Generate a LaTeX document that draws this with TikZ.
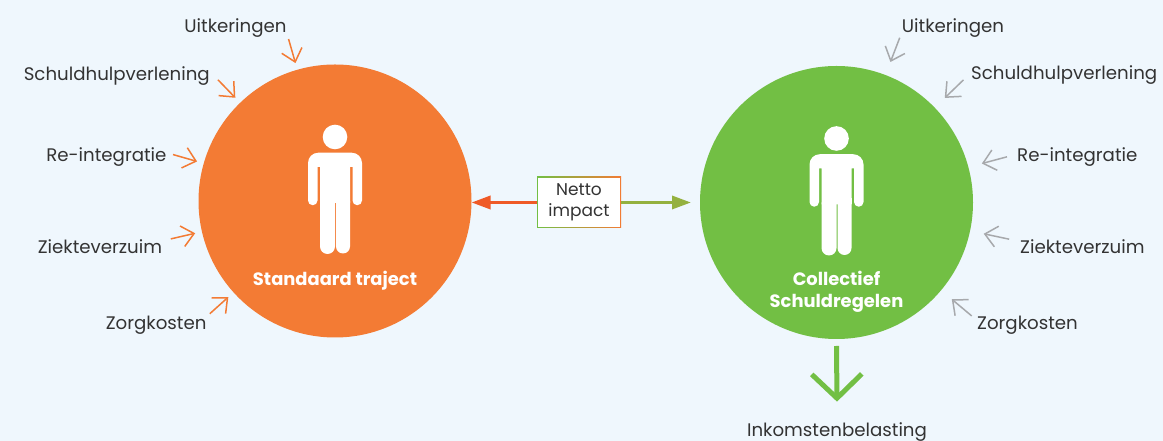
\documentclass[tikz,border=0pt]{standalone}
\usepackage{fontspec}
\setmainfont{Poppins}
\usetikzlibrary{arrows.meta}
\definecolor{achtergrond}{HTML}{EFF7FD}
\definecolor{oranje}{HTML}{F37B34}
\definecolor{roodoranje}{HTML}{EF5A27}
\definecolor{groen}{HTML}{72BF44}
\definecolor{olijf}{HTML}{94B13F}
\definecolor{grijs}{HTML}{A7A9AC}
\definecolor{tekst}{HTML}{333333}

\tikzset{
 persoon/.pic={
  \fill[white] (0,64) circle (12.3);
  \fill[white] (-27,0.5) -- (-27,38) arc[start angle=180,end angle=90,radius=10.3]
   -- (16.7,48.3) arc[start angle=90,end angle=0,radius=10.3] -- (27,0.5)
   arc[start angle=0,end angle=-180,radius=4.75] -- (17.5,34) -- (15,34) -- (15,-2)
   -- (-15,-2) -- (-15,34) -- (-17.5,34) -- (-17.5,0.5)
   arc[start angle=0,end angle=-180,radius=4.75] -- cycle;
  \fill[white] (-15,0) -- (-15,-45.5) arc[start angle=180,end angle=360,radius=7.5] -- (0,0) -- cycle;
  \fill[white] (1,0) -- (1,-45.5) arc[start angle=180,end angle=360,radius=7] -- (15,0) -- cycle;
  \fill[white] (-15,4) rectangle (15,-1.5);
 }
}

\begin{document}
\begin{tikzpicture}[x=1pt,y=1pt,
 etiket/.style={text=tekst, font=\fontsize{18.2}{21}\selectfont, inner sep=0pt},
 titel/.style={text=white, font=\fontsize{17.9}{21}\selectfont\bfseries, inner sep=0pt},
 cirkel/.style={circle, minimum size=273pt, inner sep=0pt, outer sep=0pt},
 pijloranje/.style={draw=oranje, line width=1.5pt, -{Straight Barb[length=12pt,width=21pt]}},
 pijlgrijs/.style={draw=grijs, line width=1.5pt, -{Straight Barb[length=12pt,width=21pt]}}]
\fill[achtergrond] (0,0) rectangle (1163,441);
\useasboundingbox (0,0) rectangle (1163,441);

% cirkels
\node[cirkel, fill=oranje] (links) at (335,240) {};
\node[cirkel, fill=groen] (rechts) at (836.5,238.5) {};
\pic at (links) {persoon};
\pic at (rechts) {persoon};
\node[titel, anchor=base] (standaard) at (335,155) {Standaard traject};
\node[titel, anchor=base] (collectief) at (836.5,155) {Collectief};
\node[titel, anchor=base] (schuldregelen) at (836.5,133.7) {Schuldregelen};

% netto impact
\node[text=tekst, font=\fontsize{17}{20.7}\selectfont, align=center, minimum width=84pt, minimum height=51pt,
 inner sep=0pt, left color=groen, right color=oranje,
 path picture={\fill[white] ([shift={(1,1)}]path picture bounding box.south west) rectangle ([shift={(-1,-1)}]path picture bounding box.north east);}]
 (netto) at (579,238.5) {Netto\\impact};
\draw[roodoranje, line width=3.3pt, -{Triangle[length=19pt,width=13pt]}] (netto.west) -- (netto.west -| links.east);
\draw[olijf, line width=3.3pt, -{Triangle[length=19pt,width=13pt]}, shorten >=9pt] (netto.east) -- (netto.east -| rechts.west);

% labels links
\node[etiket, anchor=base] (uitl) at (235.5,408.7) {Uitkeringen};
\node[etiket, anchor=base east] (schuldl) at (210,360) {Schuldhulpverlening};
\node[etiket, anchor=base east] (reintl) at (166.7,279.3) {Re-integratie};
\node[etiket, anchor=base east] (ziekl) at (162.3,187.7) {Ziekteverzuim};
\node[etiket, anchor=base east] (zorgl) at (206.7,111) {Zorgkosten};

% labels rechts
\node[etiket, anchor=base] (uitr) at (953,408.7) {Uitkeringen};
\node[etiket, anchor=base west] (schuldr) at (971,361) {Schuldhulpverlening};
\node[etiket, anchor=base west] (reintr) at (1017,279.3) {Re-integratie};
\node[etiket, anchor=base west] (ziekr) at (1020,187.7) {Ziekteverzuim};
\node[etiket, anchor=base west] (zorgr) at (977,111) {Zorgkosten};

\foreach \a in {106,134,164,193,222} {
 \draw[pijloranje] ([shift={(\a:32)}]links.\a) -- ([shift={(\a:7)}]links.\a);
}
\foreach \a in {69,44,15,348,320} {
 \draw[pijlgrijs] ([shift={(\a:40)}]rechts.\a) -- ([shift={(\a:14)}]rechts.\a);
}

% inkomstenbelasting
\node[etiket, anchor=base] (inkomsten) at (837,4.3) {Inkomstenbelasting};
\draw[groen, line width=5pt, -{Straight Barb[length=24pt,width=50pt]}] ([yshift=-7pt]rechts.south) -- ([yshift=21pt]inkomsten.north);
\end{tikzpicture}
\end{document}
